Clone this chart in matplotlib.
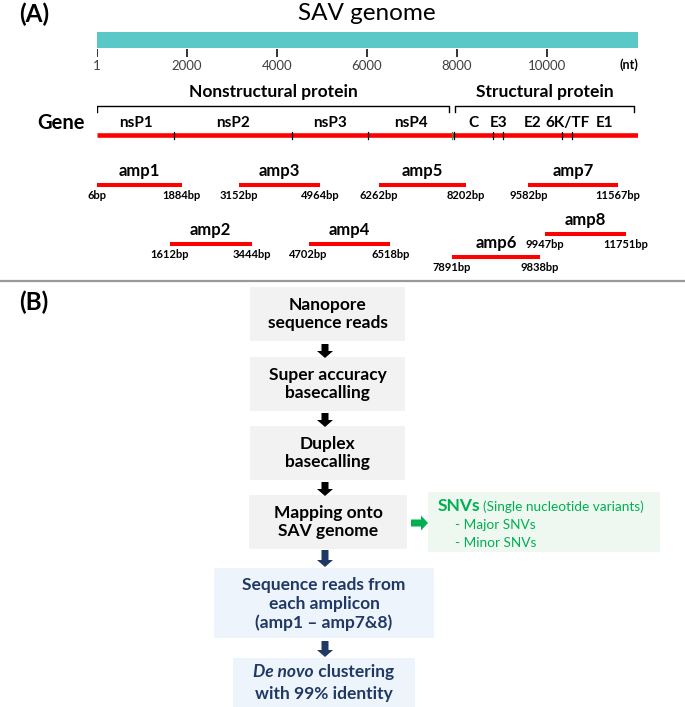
import matplotlib
matplotlib.use("Agg")
import matplotlib.pyplot as plt
from matplotlib.patches import Rectangle, FancyArrow

plt.rcParams['font.family'] = ['Lato', 'DejaVu Sans']

# genome scale
genome_start = 1
genome_end = 12020
axis_ticks = [1, 2000, 4000, 6000, 8000, 10000]

# genes
gene_names = ['nsP1', 'nsP2', 'nsP3', 'nsP4', 'C', 'E3', 'E2', '6K/TF', 'E1']
gene_bounds = [1, 1712, 4334, 6023, 7923, 8801, 9023, 10334, 10556, 12020]
nonstruct_span = [1, 7830]
struct_span = [7960, 11930]

# amplicons
amp_names = ['amp1', 'amp2', 'amp3', 'amp4', 'amp5', 'amp6', 'amp7', 'amp8']
amp_start = [6, 1612, 3152, 4702, 6262, 7891, 9582, 9947]
amp_end = [1884, 3444, 4964, 6518, 8202, 9838, 11567, 11751]
amp_row_y = [185, 244, 185, 244, 185, 257, 185, 234]

# workflow
grey_steps = ['Nanopore\nsequence reads', 'Super accuracy\nbasecalling',
              'Duplex\nbasecalling', 'Mapping onto\nSAV genome']
snv_title = 'SNVs'
snv_sub = '(Single nucleotide variants)'
snv_items = ['- Major SNVs', '- Minor SNVs']

W, H = 685, 707
fig = plt.figure(figsize=(W / 100, H / 100), dpi=100)
ax = fig.add_axes([0, 0, 1, 1])
ax.set_xlim(0, W)
ax.set_ylim(H, 0)
ax.axis('off')

# genome axes: x in nt, y in pixels for top panel
x0, x1 = 97, 638
top_h = 281
ag = fig.add_axes([x0 / W, (H - top_h) / H, (x1 - x0) / W, top_h / H])
ag.set_xlim(genome_start, genome_end)
ag.set_ylim(top_h, 0)
ag.axis('off')

red = '#ff0000'
ax.text(34, 14, '(A)', fontsize=17.5, fontweight='bold', ha='center', va='center')
ax.text(367, 13, 'SAV genome', fontsize=17.5, ha='center', va='center')
ag.add_patch(Rectangle((genome_start, 32), genome_end - genome_start, 16,
                       color='#5bc8c8', lw=0))
for t in axis_ticks:
    ag.plot([t, t], [49, 57], color='#333333', lw=1.4, solid_capstyle='butt')
    ag.text(t, 66, str(t), fontsize=9.5, color='#404040', ha='center', va='center')
ag.text(11810, 65, '(nt)', fontsize=9, fontweight='bold', ha='center', va='center')

# brackets
for span, label in [(nonstruct_span, 'Nonstructural protein'),
                    (struct_span, 'Structural protein')]:
    ag.plot([span[0], span[0], span[1], span[1]], [112, 106, 106, 112],
            color='black', lw=1)
    ag.text((span[0] + span[1]) / 2, 92, label, fontsize=12.5,
            fontweight='bold', ha='center', va='center')

ax.text(61, 123, 'Gene', fontsize=14.5, fontweight='bold', ha='center', va='center')
ag.plot([genome_start, genome_end], [135.5, 135.5], color=red, lw=3.3,
        solid_capstyle='butt')
for b in gene_bounds[1:-1]:
    ag.plot([b, b], [132, 139], color='black', lw=0.9)
ag.plot([7890, 7890], [132, 139], color='#22aa22', lw=0.9)
for i, g in enumerate(gene_names):
    mid = (gene_bounds[i] + gene_bounds[i + 1]) / 2
    ag.text(mid, 123, g, fontsize=11, fontweight='bold', ha='center', va='center')

for name, s, e, y in zip(amp_names, amp_start, amp_end, amp_row_y):
    ag.plot([s, e], [y, y], color=red, lw=2.9, solid_capstyle='butt')
    ag.text((s + e) / 2, y - 14, name, fontsize=12, fontweight='bold',
            ha='center', va='center')
    ag.text(s, y + 11, f'{s}bp', fontsize=8, fontweight='bold',
            ha='center', va='center')
    ag.text(e, y + 11, f'{e}bp', fontsize=8, fontweight='bold',
            ha='center', va='center')

# separator
ax.plot([0, W], [281, 281], color='#999999', lw=1.6)

# (B) workflow
ax.text(34, 302, '(B)', fontsize=17.5, fontweight='bold', ha='center', va='center')
grey_boxes = [(250, 287, 155, 54), (250, 357, 155, 54),
              (250, 426, 155, 54), (249, 495, 158, 54)]
for (bx, by, bw, bh), label in zip(grey_boxes, grey_steps):
    ax.add_patch(Rectangle((bx, by), bw, bh, color='#f2f2f2', lw=0))
    ax.text(bx + bw / 2, by + bh / 2, label, fontsize=12.5, fontweight='bold',
            ha='center', va='center', linespacing=1.2)

def down_arrow(y0, y1, color):
    ax.add_patch(FancyArrow(325, y0, 0, y1 - y0, width=7, head_width=16,
                            head_length=7, length_includes_head=True,
                            color=color, lw=0))

for y0, y1 in [(344, 358), (413, 427), (482, 496)]:
    down_arrow(y0, y1, 'black')

navy = '#1f3864'
down_arrow(550, 567, navy)
down_arrow(641, 657, navy)

# SNV box
green = '#00b050'
ax.add_patch(FancyArrow(411, 523, 17, 0, width=7, head_width=15, head_length=7,
                        length_includes_head=True, color=green, lw=0))
ax.add_patch(Rectangle((428, 492), 232, 60, color='#eef8f1', lw=0))
ax.text(438, 506, snv_title, fontsize=12.5, fontweight='bold', color=green,
        ha='left', va='center')
ax.text(483, 507, snv_sub, fontsize=9.8, color=green, ha='left', va='center')
for k, item in enumerate(snv_items):
    ax.text(455, 525 + 18 * k, item, fontsize=9.8, color=green,
            ha='left', va='center')

# blue boxes
ax.add_patch(Rectangle((214, 568), 220, 70, color='#eef4fb', lw=0))
ax.text(324, 604, 'Sequence reads from\neach amplicon\n(amp1 \u2013 amp7&8)',
        fontsize=12.5, fontweight='bold', color=navy, ha='center', va='center',
        linespacing=1.2)
ax.add_patch(Rectangle((233, 658), 182, 50, color='#eef4fb', lw=0))
ax.text(314, 672, 'De novo', fontsize=12.5, fontweight='bold', style='italic',
        color=navy, ha='right', va='center')
ax.text(314, 672, ' clustering', fontsize=12.5, fontweight='bold', color=navy,
        ha='left', va='center')
ax.text(324, 694, 'with 99% identity', fontsize=12.5, fontweight='bold',
        color=navy, ha='center', va='center')

fig.savefig('out.png', dpi=100)
